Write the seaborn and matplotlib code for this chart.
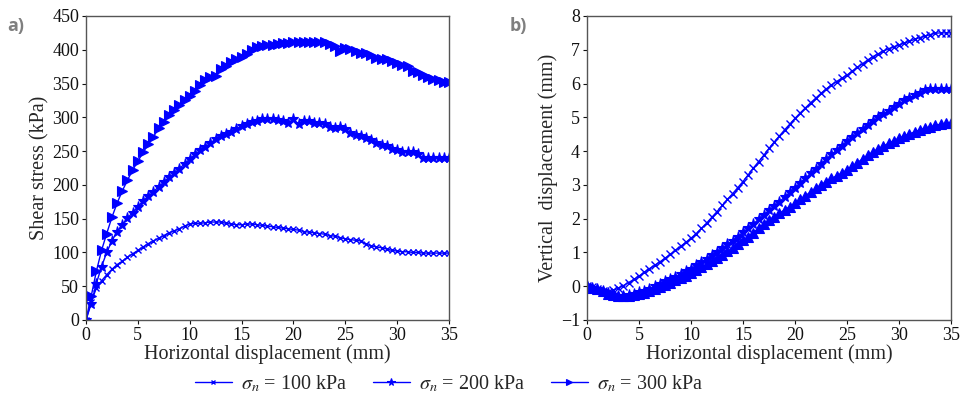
import numpy as np
import pandas as pd
import matplotlib
matplotlib.use("Agg")
import matplotlib.pyplot as plt
import seaborn as sns

# Horizontal displacement (mm), sampled every 0.5 mm
disp = [i * 0.5 for i in range(71)]

# Shear stress (kPa)
shear_100 = [0, 27, 47, 58, 67, 75, 82, 87, 93, 98,
             103, 108, 113, 117, 121, 125, 129, 132, 135, 139,
             142, 143, 143, 144, 145, 145, 145, 143, 142, 141,
             141, 142, 142, 141, 140, 139, 138, 137, 136, 135,
             134, 133, 131, 130, 129, 128, 127, 125, 124, 122,
             120, 119, 118, 117, 112, 110, 108, 107, 105, 103,
             102, 101, 101, 100, 100, 99, 99, 99, 99, 99, 99]
shear_200 = [0, 24, 54, 79, 100, 117, 131, 141, 151, 159,
             168, 176, 183, 190, 197, 204, 211, 217, 224, 231,
             238, 245, 251, 256, 262, 268, 272, 276, 279, 283,
             287, 290, 293, 295, 297, 298, 298, 296, 295, 292,
             297, 290, 295, 294, 292, 292, 290, 285, 284, 285,
             283, 277, 274, 272, 269, 266, 262, 259, 257, 253,
             251, 249, 249, 248, 245, 240, 240, 240, 240, 240, 240]
shear_300 = [0, 35, 72, 103, 128, 152, 173, 191, 207, 222,
             235, 248, 260, 271, 284, 293, 303, 311, 318, 326,
             332, 339, 348, 356, 360, 361, 371, 376, 382, 387,
             390, 394, 399, 404, 406, 407, 407, 408, 410, 410,
             411, 411, 412, 412, 412, 412, 412, 409, 405, 398,
             402, 401, 398, 395, 395, 393, 388, 386, 386, 384,
             381, 378, 376, 369, 367, 362, 360, 357, 355, 353, 353]

# Vertical displacement (mm)
vert_100 = [0.00, -0.03, -0.07, -0.13, -0.18, -0.12, -0.06, 0.02, 0.11, 0.20,
            0.30, 0.41, 0.52, 0.62, 0.72, 0.83, 0.94, 1.06, 1.18, 1.30,
            1.42, 1.56, 1.71, 1.87, 2.04, 2.21, 2.39, 2.57, 2.74, 2.92,
            3.10, 3.30, 3.50, 3.69, 3.88, 4.08, 4.27, 4.45, 4.63, 4.80,
            4.97, 5.13, 5.28, 5.43, 5.57, 5.71, 5.84, 5.96, 6.06, 6.16,
            6.25, 6.37, 6.48, 6.59, 6.70, 6.80, 6.88, 6.96, 7.03, 7.09,
            7.14, 7.20, 7.25, 7.31, 7.36, 7.40, 7.45, 7.49, 7.50, 7.50, 7.50]
vert_200 = [0.00, -0.04, -0.08, -0.14, -0.21, -0.26, -0.28, -0.28, -0.26, -0.22,
            -0.18, -0.13, -0.07, 0.00, 0.07, 0.14, 0.21, 0.28, 0.36, 0.44,
            0.52, 0.62, 0.72, 0.81, 0.92, 1.02, 1.13, 1.24, 1.35, 1.47,
            1.60, 1.72, 1.85, 1.98, 2.11, 2.25, 2.38, 2.50, 2.64, 2.78,
            2.92, 3.06, 3.20, 3.34, 3.48, 3.62, 3.76, 3.90, 4.03, 4.16,
            4.30, 4.42, 4.54, 4.66, 4.78, 4.90, 5.00, 5.10, 5.20, 5.30,
            5.38, 5.50, 5.58, 5.65, 5.72, 5.80, 5.84, 5.84, 5.84, 5.84, 5.84]
vert_300 = [0.00, -0.04, -0.09, -0.15, -0.22, -0.27, -0.29, -0.30, -0.29, -0.27,
            -0.24, -0.20, -0.15, -0.09, -0.03, 0.04, 0.10, 0.17, 0.24, 0.31,
            0.39, 0.47, 0.56, 0.65, 0.74, 0.83, 0.93, 1.03, 1.14, 1.25,
            1.36, 1.47, 1.59, 1.72, 1.84, 1.96, 2.06, 2.16, 2.26, 2.36,
            2.46, 2.57, 2.68, 2.79, 2.90, 3.00, 3.10, 3.19, 3.27, 3.35,
            3.44, 3.55, 3.66, 3.77, 3.88, 3.98, 4.07, 4.15, 4.23, 4.31,
            4.38, 4.45, 4.51, 4.57, 4.63, 4.68, 4.72, 4.76, 4.80, 4.82, 4.83]

labels = [r"$\sigma_{n}$ = 100 kPa", r"$\sigma_{n}$ = 200 kPa", r"$\sigma_{n}$ = 300 kPa"]

sns.set_theme(style="ticks")
plt.rcParams["font.family"] = ["Liberation Serif", "DejaVu Serif"]
plt.rcParams["mathtext.fontset"] = "stix"
plt.rcParams["axes.unicode_minus"] = True

blue = "#0000ff"
fig = plt.figure(figsize=(9.66, 4.01), dpi=100)
ax_a = fig.add_axes([0.0890, 0.2020, 0.3758, 0.7581])
ax_b = fig.add_axes([0.6077, 0.2020, 0.3768, 0.7581])

styles_a = [dict(marker="x", markersize=5, markeredgewidth=1.0),
            dict(marker="*", markersize=8, markeredgewidth=0.8),
            dict(marker=">", markersize=7, markeredgewidth=0.8)]
styles_b = [dict(marker="x", markersize=5.5, markeredgewidth=1.0),
            dict(marker="*", markersize=8, markeredgewidth=0.8),
            dict(marker="^", markersize=7, markeredgewidth=0.8)]

for ys, st, lab in zip([shear_100, shear_200, shear_300], styles_a, labels):
    df = pd.DataFrame({"disp": disp, "val": ys})
    sns.lineplot(data=df, x="disp", y="val", ax=ax_a, color=blue, linewidth=1.0,
                 markeredgecolor=blue, label=lab, legend=False, **st)

for ys, st in zip([vert_100, vert_200, vert_300], styles_b):
    df = pd.DataFrame({"disp": disp, "val": ys})
    sns.lineplot(data=df, x="disp", y="val", ax=ax_b, color=blue, linewidth=1.0,
                 markeredgecolor=blue, legend=False, **st)

ax_a.set_xlim(0, 35)
ax_a.set_ylim(0, 450)
ax_a.set_xticks(range(0, 36, 5))
ax_a.set_yticks(range(0, 451, 50))
ax_a.set_ylabel("Shear stress (kPa)", fontsize=14.5, labelpad=2)

ax_b.set_xlim(0, 35)
ax_b.set_ylim(-1, 8)
ax_b.set_xticks(range(0, 36, 5))
ax_b.set_yticks(range(-1, 9))
ax_b.set_ylabel("Vertical  displacement (mm)", fontsize=14.5, labelpad=2)

for ax in (ax_a, ax_b):
    ax.set_xlabel("Horizontal displacement (mm)", fontsize=14.5, labelpad=0)
    ax.tick_params(direction="out", length=3, width=0.8, labelsize=13, pad=2,
                   colors="#111111")
    for sp in ax.spines.values():
        sp.set_visible(True)
        sp.set_color("#555555")
        sp.set_linewidth(1.0)

fig.text(0.008, 0.935, "a)", fontsize=13, fontweight="bold", color="#7f7f7f",
         family="Open Sans", va="center")
fig.text(0.528, 0.935, "b)", fontsize=13, fontweight="bold", color="#7f7f7f",
         family="Open Sans", va="center")

handles, labs = ax_a.get_legend_handles_labels()
fig.legend(handles, labs, loc="center", bbox_to_anchor=(0.465, 0.042), ncol=3,
           frameon=False, fontsize=14.5, handlelength=1.8, columnspacing=1.3,
           handletextpad=0.45, borderaxespad=0, markerscale=0.7)

fig.savefig("out.png", dpi=100)
